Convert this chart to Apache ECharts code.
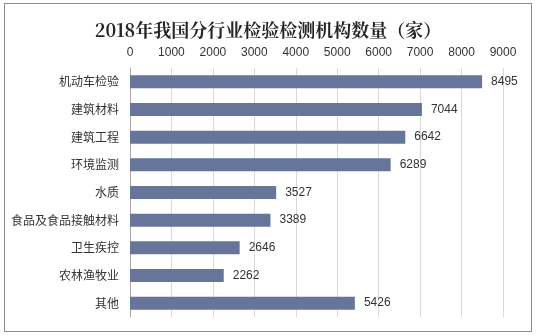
<!DOCTYPE html>
<html>
<head>
<meta charset="utf-8">
<script src="https://cdn.jsdelivr.net/npm/echarts@6/dist/echarts.min.js"></script>
<style>
  html, body { margin: 0; padding: 0; background: #fff; }
  #frame { position: absolute; left: 4px; top: 3px; width: 528px; height: 329px; border: 1px solid #8c8c8c; box-sizing: border-box; }
  #chart { width: 536px; height: 336px; }
</style>
</head>
<body>
<div id="frame"></div>
<div id="chart"></div>
<script>
// Industry categories, listed top to bottom
const categories = ['机动车检验', '建筑材料', '建筑工程', '环境监测', '水质', '食品及食品接触材料', '卫生疾控', '农林渔牧业', '其他'];
// Number of inspection and testing institutions per industry
const counts = [8495, 7044, 6642, 6289, 3527, 3389, 2646, 2262, 5426];
// Value axis range
const axisMin = 0;
const axisMax = 9000;
const axisStep = 1000;

const chart = echarts.init(document.getElementById('chart'), null, { renderer: 'canvas' });
chart.setOption({
  animation: false,
  backgroundColor: 'transparent',
  title: {
    text: '2018年我国分行业检验检测机构数量（家）',
    left: 'center',
    top: 16,
    textStyle: {
      fontFamily: '"Noto Serif CJK SC", "Noto Sans CJK SC", serif',
      fontSize: 18,
      fontWeight: 'bold',
      color: '#262626'
    }
  },
  grid: { left: 130, right: 33, top: 68, bottom: 19 },
  xAxis: {
    type: 'value',
    position: 'top',
    min: axisMin,
    max: axisMax,
    interval: axisStep,
    axisLine: { show: false },
    axisTick: { show: false },
    axisLabel: {
      color: '#333', fontSize: 12, fontFamily: '"Liberation Sans", Arial, sans-serif', margin: 9,
      formatter: v => String(v)
    },
    splitLine: { lineStyle: { color: '#d9d9d9', width: 1 } }
  },
  yAxis: {
    type: 'category',
    data: categories,
    inverse: true,
    axisLine: { show: true, lineStyle: { color: '#a6a6a6' } },
    axisTick: { show: false },
    axisLabel: { color: '#333', fontSize: 12, fontFamily: '"Noto Sans CJK SC", sans-serif', margin: 11 }
  },
  series: [{
    type: 'bar',
    data: counts,
    barWidth: 13,
    itemStyle: { color: '#67759b' },
    label: {
      show: true,
      position: 'right',
      distance: 9,
      color: '#333',
      fontSize: 12,
      fontFamily: '"Liberation Sans", Arial, sans-serif'
    }
  }]
});
</script>
</body>
</html>
